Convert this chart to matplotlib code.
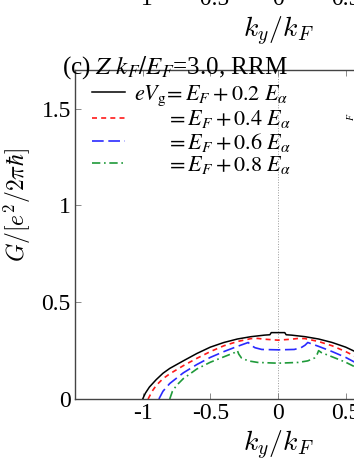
import matplotlib
matplotlib.use('Agg')
import matplotlib.pyplot as plt

# Panel (c): conductance vs k_y for several gate voltages.
ky_02 = [-1.0, -0.98, -0.95, -0.9, -0.85, -0.8, -0.7, -0.6, -0.5, -0.4, -0.3,
         -0.2, -0.1, -0.06, -0.05, 0.05, 0.06, 0.1, 0.2, 0.3, 0.4, 0.5, 0.6,
         0.7, 0.8, 0.85, 0.9, 0.95, 0.98, 1.0]
G_02 = [0.0, 0.03, 0.062, 0.1, 0.133, 0.158, 0.197, 0.235, 0.268, 0.292, 0.31,
        0.322, 0.33, 0.332, 0.343, 0.343, 0.332, 0.33, 0.322, 0.31, 0.292,
        0.268, 0.235, 0.197, 0.158, 0.133, 0.1, 0.062, 0.03, 0.0]

ky_04 = [-0.96, -0.93, -0.9, -0.85, -0.8, -0.7, -0.6, -0.5, -0.4, -0.3, -0.2,
         -0.15, -0.1, 0.0, 0.1, 0.15, 0.2, 0.3, 0.4, 0.5, 0.6, 0.7, 0.8, 0.85,
         0.9, 0.93, 0.96]
G_04 = [0.0, 0.04, 0.07, 0.105, 0.13, 0.172, 0.21, 0.245, 0.275, 0.297, 0.312,
        0.313, 0.309, 0.304, 0.309, 0.313, 0.312, 0.297, 0.275, 0.245, 0.21,
        0.172, 0.13, 0.105, 0.07, 0.04, 0.0]

ky_06 = [-0.88, -0.85, -0.8, -0.7, -0.6, -0.5, -0.4, -0.3, -0.22, -0.2, -0.17,
         -0.12, 0.0, 0.12, 0.17, 0.2, 0.22, 0.3, 0.4, 0.5, 0.6, 0.7, 0.8, 0.85,
         0.88]
G_06 = [0.0, 0.04, 0.08, 0.135, 0.178, 0.215, 0.245, 0.272, 0.292, 0.278,
        0.265, 0.256, 0.254, 0.256, 0.265, 0.278, 0.292, 0.272, 0.245, 0.215,
        0.178, 0.135, 0.08, 0.04, 0.0]

ky_08 = [-0.8, -0.78, -0.75, -0.7, -0.6, -0.5, -0.4, -0.32, -0.3, -0.29, -0.27,
         -0.22, -0.15, 0.0, 0.15, 0.22, 0.27, 0.29, 0.3, 0.32, 0.4, 0.5, 0.6,
         0.7, 0.75, 0.78, 0.8]
G_08 = [0.0, 0.04, 0.07, 0.105, 0.155, 0.19, 0.218, 0.24, 0.25, 0.232, 0.212,
        0.197, 0.189, 0.185, 0.189, 0.197, 0.212, 0.232, 0.25, 0.24, 0.218,
        0.19, 0.155, 0.105, 0.07, 0.04, 0.0]

labels = [r'$eV_{\rm g}\!= E_F + 0.2\ E_\alpha$',
          r'$\qquad= E_F + 0.4\ E_\alpha$',
          r'$\qquad= E_F + 0.6\ E_\alpha$',
          r'$\qquad= E_F + 0.8\ E_\alpha$']

xticks = [-1, -0.5, 0, 0.5, 1]
xticklabels = ['-1', '-0.5', '0', '0.5', '1']
yticks = [0, 0.5, 1, 1.5]
yticklabels = ['0', '0.5', '1', '1.5']

plt.rcParams['font.family'] = ['Liberation Serif', 'STIXGeneral']
plt.rcParams['mathtext.fontset'] = 'stix'
plt.rcParams['axes.unicode_minus'] = False

W, H = 354, 458
fig = plt.figure(figsize=(W / 100, H / 100), dpi=100)

# Main panel; axes runs past the right edge like the cropped original.
ax = fig.add_axes([75 / W, 59 / H, 406 / W, 329 / H])
ax.axvline(0, color='#999999', linestyle=':', linewidth=0.7, zorder=0)
ax.plot(ky_02, G_02, color='black', linewidth=1.1, label=labels[0])
ax.plot(ky_04, G_04, color='#ff1a1a', linewidth=1.2, dashes=(3, 2.5),
        label=labels[1])
ax.plot(ky_06, G_06, color='#2a2aff', linewidth=1.2, dashes=(7, 2.8),
        label=labels[2])
ax.plot(ky_08, G_08, color='#1f9a3a', linewidth=1.2, dashes=(5, 2.2, 1, 2.2),
        label=labels[3])

ax.set_xlim(-1.5, 1.5)
ax.set_ylim(0, 1.7)
ax.set_xticks(xticks)
ax.set_xticklabels(xticklabels)
ax.set_yticks(yticks)
ax.set_yticklabels(yticklabels)
ax.tick_params(direction='in', top=True, right=True, length=4, width=0.6,
               color='#777777', labelsize=17, pad=3)
for s in ax.spines.values():
    s.set_color('#444444')
    s.set_linewidth(1.0)

ax.set_xlabel(r'$k_y/k_F$', fontsize=20, math_fontfamily='cm', labelpad=3)
ax.set_ylabel(r'$G/[e^2/2\pi\hbar]$', fontsize=17, math_fontfamily='cm')
ax.yaxis.set_label_coords(-0.103, 0.59)

ax.legend(loc='upper left', bbox_to_anchor=(0.0, 1.01), frameon=False,
          fontsize=16, handlelength=1.5, handletextpad=0.4,
          labelspacing=0.02, borderaxespad=0.4, borderpad=0.35)

fig.text(62 / W, 1 - 74 / H, r'(c) $Z\ k_F/E_F$=3.0, RRM', fontsize=18,
         ha='left', va='baseline')

# Stray rotated label piece from the neighbouring panel on the right.
fig.text(350 / W, 1 - 117 / H, r'$F$', fontsize=7, rotation=90,
         ha='center', va='center')

# Bottom of the panel above, mostly outside the crop.
ax_up = fig.add_axes([75 / W, (H + 15) / H, 406 / W, 0.3])
ax_up.set_xlim(-1.5, 1.5)
ax_up.set_xticks(xticks)
ax_up.set_xticklabels(xticklabels)
ax_up.set_yticks([])
ax_up.tick_params(direction='in', labelsize=17, pad=3)
ax_up.set_xlabel(r'$k_y/k_F$', fontsize=20, math_fontfamily='cm', labelpad=3)

fig.savefig('out.png', dpi=100)
